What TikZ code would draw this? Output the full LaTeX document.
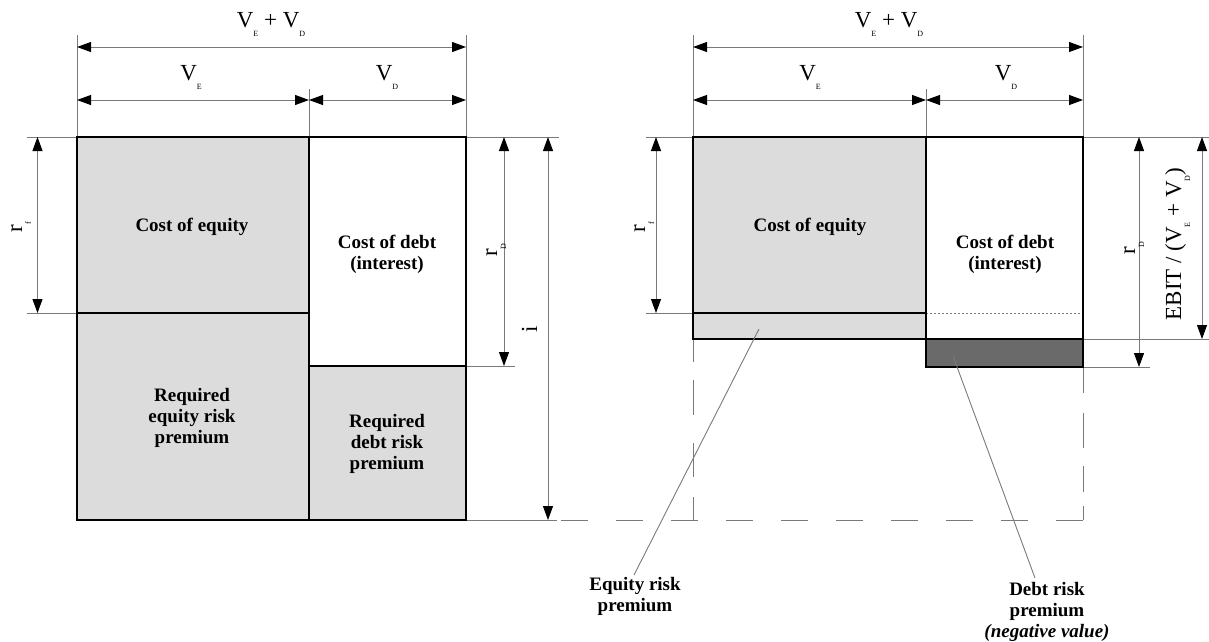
\documentclass[tikz,border=0pt]{standalone}
\usepackage{fontspec}
\setmainfont{Liberation Serif}
\usetikzlibrary{arrows.meta}
\definecolor{lgray}{HTML}{DCDCDC}
\definecolor{dgray}{HTML}{6A6A6A}
\definecolor{linegray}{HTML}{7A7A7A}
\newcommand\Vsub[1]{V\raisebox{-9pt}{\fontsize{8}{8}\selectfont #1}}
\newcommand\SubLow[1]{\raisebox{-9pt}{\fontsize{8}{8}\selectfont #1}}
\begin{document}
\begin{tikzpicture}[x=1pt,y=-1pt,
  thinl/.style={draw=linegray,line width=0.9pt},
  boxl/.style={draw=black,line width=2.8pt},
  dim/.style={thinl,{Triangle[length=14pt,width=10pt,color=black]}-{Triangle[length=14pt,width=10pt,color=black]}},
  lbl/.style={font=\fontsize{19}{21}\selectfont\bfseries,align=center,inner sep=0pt},
  mathl/.style={font=\fontsize{23}{25}\selectfont,inner sep=0pt,anchor=base},
  vlbl/.style={mathl,rotate=90},
]
\useasboundingbox (0,0) rectangle (1209,641);

% ---------- fills ----------
\fill[lgray] (77,137) rectangle (309,520);
\fill[lgray] (309,366) rectangle (466,520);
\fill[lgray] (693,137) rectangle (926,339);
\fill[dgray] (926,339) rectangle (1083,367);

% ---------- thin extension lines (left) ----------
\draw[thinl] (77,35) -- (77,137);
\draw[thinl] (309,89) -- (309,137);
\draw[thinl] (466,35) -- (466,137);
\draw[thinl] (27,137) -- (559,137);
\draw[thinl] (27,313) -- (77,313);
\draw[thinl] (466,366) -- (515,366);
\draw[thinl] (466,520) -- (557,520);

% ---------- thin extension lines (right) ----------
\draw[thinl] (693,35) -- (693,137);
\draw[thinl] (926,89) -- (926,137);
\draw[thinl] (1083,35) -- (1083,137);
\draw[thinl] (646,137) -- (1209,137);
\draw[thinl] (646,313) -- (693,313);
\draw[thinl] (1083,339) -- (1209,339);
\draw[thinl] (1083,367) -- (1150,367);
\draw[thinl,dash pattern=on 2pt off 2pt] (926,313) -- (1083,313);

% dashed outline of the full box
\draw[thinl,dash pattern=on 27pt off 28pt] (561,520) -- (1083.5,520);
\draw[thinl] (693,340) -- (693,362) (693,380) -- (693,415) (693,443) -- (693,477) (693,497) -- (693,520);
\draw[thinl] (1083.5,367) -- (1083.5,393) (1083.5,413) -- (1083.5,448) (1083.5,466) -- (1083.5,492) (1083.5,506) -- (1083.5,520);

% ---------- thick box lines ----------
\draw[boxl] (77,137) rectangle (466,520);
\draw[boxl] (309,137) -- (309,520);
\draw[boxl] (77,313) -- (309,313);
\draw[boxl] (309,366) -- (466,366);

\draw[boxl] (693,137) rectangle (1083,339);
\draw[boxl] (926,137) -- (926,339);
\draw[boxl] (693,313) -- (926,313);
\draw[boxl] (926,339) rectangle (1083,367);

% ---------- dimension arrows ----------
\draw[dim] (77,47) -- (466,47);
\draw[dim] (77,100) -- (309,100);
\draw[dim] (309,100) -- (466,100);
\draw[dim] (37.5,137) -- (37.5,313);
\draw[dim] (504,137) -- (504,366);
\draw[dim] (548,137) -- (548,520);

\draw[dim] (693,47) -- (1083,47);
\draw[dim] (693,100) -- (926,100);
\draw[dim] (926,100) -- (1083,100);
\draw[dim] (656,137) -- (656,313);
\draw[dim] (1139,137) -- (1139,367);
\draw[dim] (1202,137) -- (1202,339);

% ---------- dimension labels ----------
\node[mathl] (vsum1) at (271,27) {\Vsub{E} + \Vsub{D}};
\node[mathl] (ve1) at (191,80) {\Vsub{E}};
\node[mathl] (vd1) at (387,80) {\Vsub{D}};
\node[mathl] (vsum2) at (889,27) {\Vsub{E} + \Vsub{D}};
\node[mathl] (ve2) at (810,80) {\Vsub{E}};
\node[mathl] (vd2) at (1006,80) {\Vsub{D}};

\node[vlbl] (rf1) at (22,227) {r\SubLow{f}};
\node[vlbl] (rd1) at (497,250) {r\SubLow{D}};
\node[vlbl] (i1) at (537,329) {i};
\node[vlbl] (rf2) at (645,227) {r\SubLow{f}};
\node[vlbl] (rd2) at (1135,248) {r\SubLow{D}};
\node[vlbl] (ebit) at (1181,244) {EBIT / (\Vsub{E} + \Vsub{D})};

% ---------- box labels ----------
\node[lbl] (ce1) at (192,227) {Cost of equity};
\node[lbl] (cd1) at (387,254) {Cost of debt\\(interest)};
\node[lbl] (re1) at (192,418) {Required\\equity risk\\premium};
\node[lbl] (rdp1) at (387,444) {Required\\debt risk\\premium};
\node[lbl] (ce2) at (810,227) {Cost of equity};
\node[lbl] (cd2) at (1005,254) {Cost of debt\\(interest)};

% ---------- callouts ----------
\node[lbl] (erp) at (635,596) {Equity risk\\premium};
\node[lbl] (drp) at (1047,612) {Debt risk\\premium\\\textit{(negative value)}};
\coordinate (erpin) at (759,329);
\coordinate (drpin) at (953,356);
\coordinate (erpend) at (634,575);
\coordinate (drpend) at (1035,578);
\draw[thinl] (erpin) -- (erpend);
\draw[thinl] (drpin) -- (drpend);
\end{tikzpicture}
\end{document}
